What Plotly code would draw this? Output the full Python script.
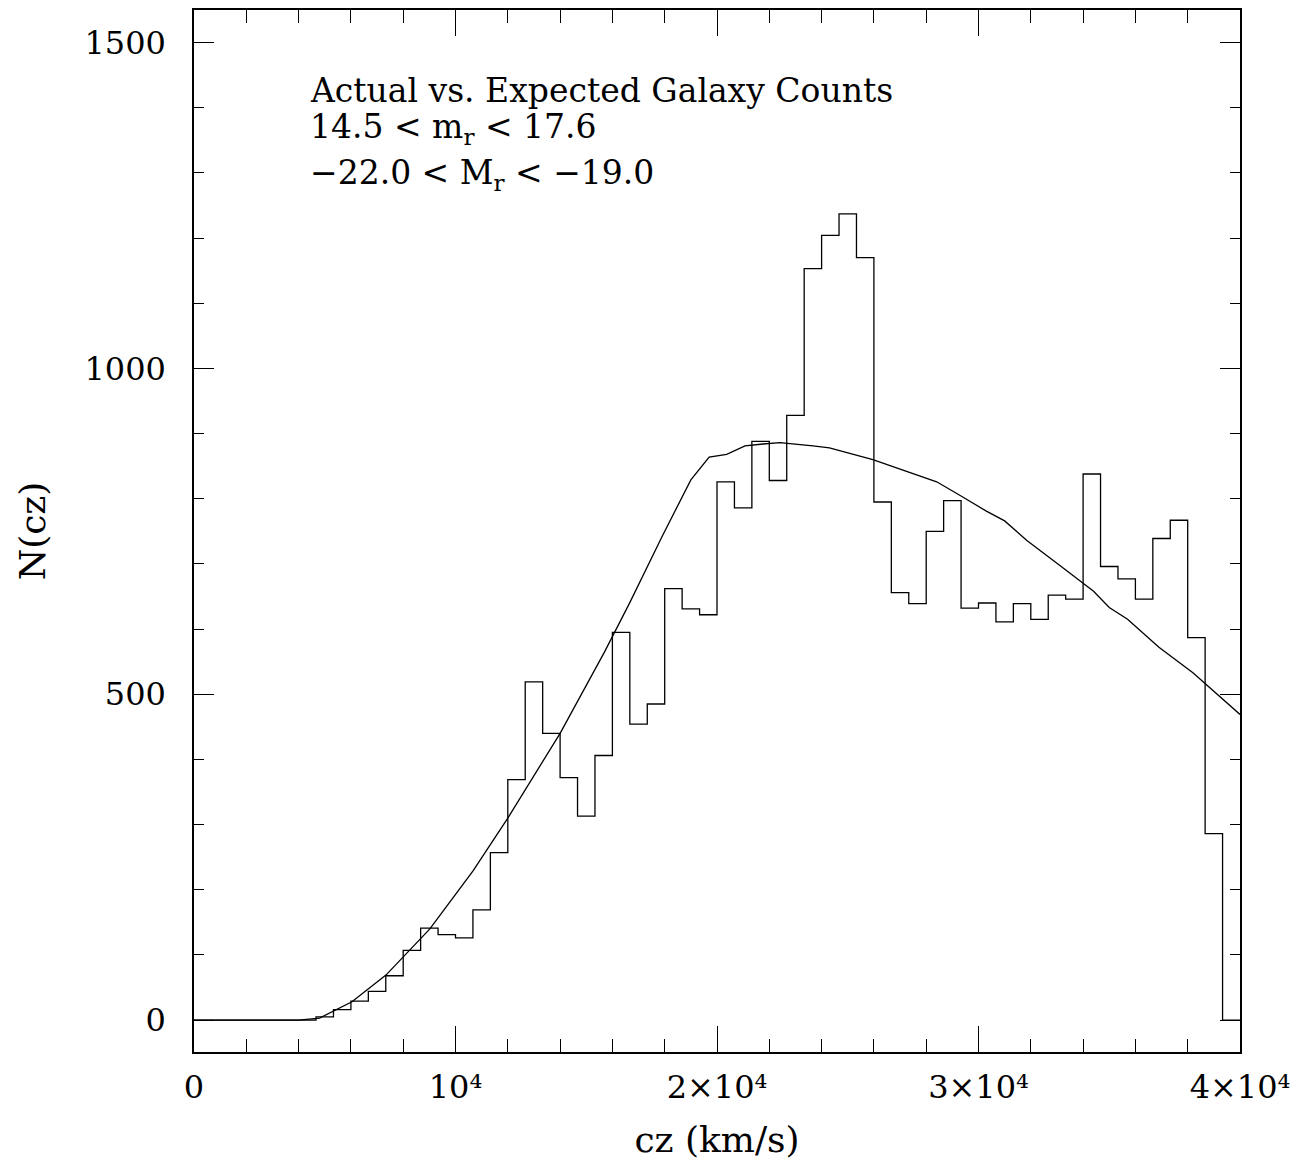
import plotly.graph_objects as go

bin_width = 40000 / 60
counts = [0, 0, 0, 0, 0, 0, 0, 5, 16, 29, 44, 68, 107, 141, 131, 126, 169, 257, 369, 519,
          440, 372, 313, 406, 595, 454, 485, 662, 631, 622, 826, 786, 888, 828, 928, 1153,
          1204, 1237, 1170, 795, 656, 639, 750, 797, 632, 640, 611, 639, 615, 652, 646, 838,
          696, 677, 646, 739, 767, 587, 286, 0]

model_cz = [0, 4000, 4800, 6040, 7340, 9020, 10670, 12000, 14000, 15700, 16670, 17900, 19000,
            19700, 20370, 21070, 21760, 22400, 23670, 24300, 25960, 27000, 28400, 29300, 30300,
            31000, 31850, 33100, 34400, 35000, 35700, 36900, 38200, 40000]
model_n = [0, 0, 3, 28, 69, 140, 229, 310, 440, 565, 641, 742, 829, 864, 868, 881, 884, 886,
           881, 878, 860, 846, 826, 805, 781, 766, 736, 698, 658, 633, 615, 572, 533, 469]

labels = ["Actual vs. Expected Galaxy Counts",
          "14.5 &lt; m<sub>r</sub> &lt; 17.6",
          "\u221222.0 &lt; M<sub>r</sub> &lt; \u221219.0"]
label_y = [0.923, 0.886, 0.842]

edges = [i * bin_width for i in range(len(counts) + 1)]
hx = edges[:-1] + [edges[-1]]
hy = counts + [counts[-1]]

font = "DejaVu Serif"
fig = go.Figure()
fig.add_trace(go.Scatter(x=hx, y=hy, mode="lines", line=dict(color="black", width=1.3, shape="hv"),
                         showlegend=False))
fig.add_trace(go.Scatter(x=model_cz, y=model_n, mode="lines", line=dict(color="black", width=1.3),
                         showlegend=False))

for t, yy in zip(labels, label_y):
    fig.add_annotation(x=0.109, y=yy, xref="paper", yref="paper", xanchor="left", yanchor="middle",
                       showarrow=False, text=t, font=dict(family=font, size=33, color="black"))

axis_common = dict(showgrid=False, zeroline=False, showline=True, linecolor="black", linewidth=1.5,
                   mirror="ticks", ticks="inside", tickcolor="black", tickwidth=1.2,
                   tickfont=dict(family=font, size=32, color="black"))
fig.update_xaxes(range=[0, 40000], tickvals=[0, 10000, 20000, 30000, 40000],
                 ticktext=["0", "10\u2074", "2\u00d710\u2074", "3\u00d710\u2074", "4\u00d710\u2074"],
                 ticklen=26, ticklabelstandoff=6,
                 minor=dict(dtick=2000, ticklen=13, ticks="inside", tickcolor="black"),
                 title=dict(text="cz (km/s)", font=dict(family=font, size=36, color="black"), standoff=22),
                 **axis_common)
fig.update_yaxes(range=[-49, 1550], tickvals=[0, 500, 1000, 1500], ticklen=20, ticklabelstandoff=20,
                 minor=dict(dtick=100, ticklen=10, ticks="inside", tickcolor="black"),
                 title=dict(text="N(cz)", font=dict(family=font, size=36, color="black"), standoff=28),
                 **axis_common)
fig.update_layout(width=1313, height=1172, plot_bgcolor="white", paper_bgcolor="white",
                  margin=dict(l=186, r=81, t=0, b=128))
fig.write_html("out.html")
